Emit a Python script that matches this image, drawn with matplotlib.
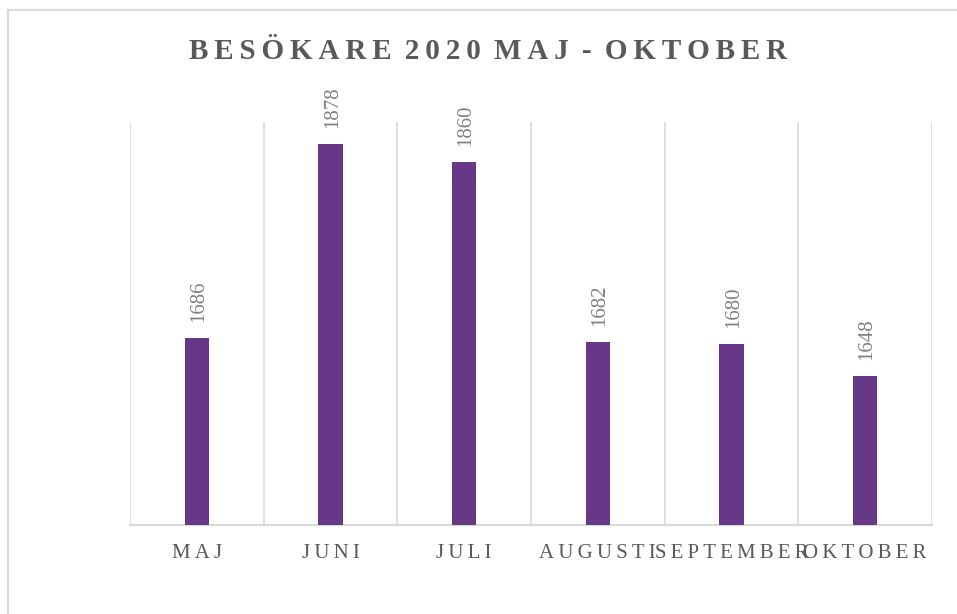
import matplotlib
matplotlib.use("Agg")
import matplotlib.pyplot as plt
from matplotlib.lines import Line2D

categories = ["MAJ", "JUNI", "JULI", "AUGUSTI", "SEPTEMBER", "OKTOBER"]
values = [1686, 1878, 1860, 1682, 1680, 1648]
title = "BESÖKARE 2020 MAJ - OKTOBER"

W, H = 957, 614
fig = plt.figure(figsize=(W / 100, H / 100), dpi=100)
ax = fig.add_axes([130 / W, 1 - 525 / H, (932 - 130) / W, (525 - 122) / H])

serif = ["Liberation Serif", "DejaVu Serif"]
bar_color = "#673888"
grid_color = "#d9d9d9"
text_color = "#595959"

x = list(range(len(categories)))
bars = ax.bar(x, values, width=0.18, color=bar_color, zorder=3)
ax.set_xlim(-0.5, len(categories) - 0.5)
ax.set_ylim(1500, 1900)

for b in [i - 0.5 for i in range(len(categories) + 1)]:
    ax.axvline(b, color=grid_color, lw=1.2, zorder=1)

for s in ["top", "left", "right"]:
    ax.spines[s].set_visible(False)
ax.spines["bottom"].set_color(grid_color)
ax.spines["bottom"].set_linewidth(1.5)
ax.set_yticks([])
ax.set_xticks(x)
ax.set_xticklabels(["\u2009".join(c) for c in categories],
                   family=["Liberation Serif", "DejaVu Sans"],
                   fontsize=15, color=text_color)
ax.tick_params(axis="x", length=0, pad=13.5)

for xi, v in zip(x, values):
    ax.annotate(str(v), xy=(xi, v), xytext=(2, 16), textcoords="offset pixels",
                rotation=90, ha="center", va="bottom", fontsize=15,
                family=serif, color="#808080")

title_text = " \u2009".join("\u2009".join(w) for w in title.split(" "))
fig.text(488 / W, 1 - 59 / H, title_text, ha="center", va="baseline",
         fontsize=21, fontweight="bold", family=["Liberation Serif", "DejaVu Sans"],
         color=text_color)

# chart border
fig.add_artist(Line2D([8 / W, 1], [1 - 10 / H, 1 - 10 / H], transform=fig.transFigure,
                      color=grid_color, lw=1.5))
fig.add_artist(Line2D([8 / W, 8 / W], [1 - 10 / H, 0], transform=fig.transFigure,
                      color=grid_color, lw=1.5))

fig.savefig("out.png", dpi=100)
